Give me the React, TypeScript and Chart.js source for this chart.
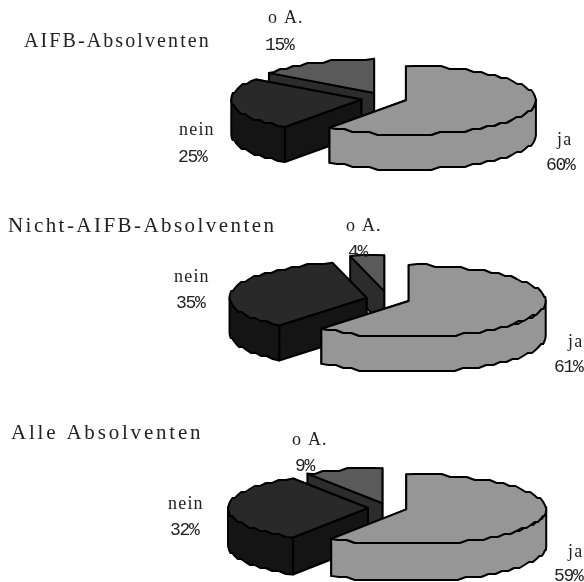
import React, { useEffect, useRef } from "react";
import { Chart, registerables } from "chart.js";

Chart.register(...registerables);

const categories = ["ja", "nein", "o A."];
const titles = ["AIFB-Absolventen", "Nicht-AIFB-Absolventen", "Alle Absolventen"];
const aifbValues = [60, 25, 15];
const nichtAifbValues = [61, 35, 4];
const alleValues = [59, 32, 9];
const topColors = ["#969696", "#292929", "#5a5a5a"];
const sideColors = ["#969696", "#141414", "#2c2c2c"];

const W = 584;
const H = 582;

// label anchors follow category order: ja, nein, o A.  [nameX, nameY, pctX, pctY]
const layouts = [
  {
    title: [24, 47, 20, 2.1], cx: 385, cy: 98.5, r: 130, squash: 0.262, depth: 35, explode: [22, 24, 24],
    labels: [[557, 145, 546, 170], [179, 135, 178, 162], [268, 23, 265, 50]],
  },
  {
    title: [8, 232, 21, 2.45], cx: 388, cy: 299, r: 137, squash: 0.263, depth: 35, explode: [22, 22, 30],
    labels: [[568, 347, 554, 372], [174, 282, 176, 308], [346, 231, 348, 257]],
  },
  {
    title: [11, 439, 21, 2.8], cx: 388, cy: 508, r: 140, squash: 0.25, depth: 37, explode: [19, 20, 20],
    labels: [[568, 557, 554, 581], [168, 509, 170, 535], [292, 445, 295, 471]],
  },
];

const GRID = 3;
const STEP = 9;
const snap = (v: number) => Math.round(v / GRID) * GRID;

const pie3d = {
  id: "pie3d",
  beforeDatasetsDraw(chart: any, _args: any, o: any) {
    const { ctx } = chart;
    const arcs = chart.getDatasetMeta(0).data;
    const order = [2, 1, 0];
    ctx.save();
    ctx.lineWidth = 2;
    ctx.lineJoin = "round";
    ctx.strokeStyle = "#000";
    for (const i of order) {
      const arc = arcs[i];
      const mid = (arc.startAngle + arc.endAngle) / 2;
      const ox = o.cx + Math.cos(mid) * o.explode[i];
      const oy = o.cy + Math.sin(mid) * o.explode[i] * o.squash;
      const rx = arc.outerRadius;
      const ry = arc.outerRadius * o.squash;
      const pt = (a: number) => [ox + Math.cos(a) * rx, oy + Math.sin(a) * ry];
      const rim = (a0: number, a1: number) => {
        const n = Math.max(2, Math.ceil(((a1 - a0) * rx) / STEP));
        const out: number[][] = [];
        for (let k = 0; k <= n; k++) {
          const p = pt(a0 + ((a1 - a0) * k) / n);
          const edge = k === 0 || k === n;
          out.push(edge ? p : [p[0], snap(p[1])]);
        }
        return out;
      };
      const shape = (pts: number[][], fill: string) => {
        ctx.beginPath();
        pts.forEach((p, k) => (k ? ctx.lineTo(p[0], p[1]) : ctx.moveTo(p[0], p[1])));
        ctx.closePath();
        ctx.fillStyle = fill;
        ctx.fill();
        ctx.stroke();
      };
      const down = (p: number[]) => [p[0], p[1] + o.depth];
      const cuts = [arc.startAngle, arc.endAngle].sort((a, b) => Math.sin(a) - Math.sin(b));
      for (const a of cuts) {
        const e = pt(a);
        shape([[ox, oy], e, down(e), [ox, oy + o.depth]], sideColors[i]);
      }
      // outer wall: the part of the rim that faces the viewer (canvas angles 0..PI)
      const a0 = Math.max(arc.startAngle, 0);
      const a1 = Math.min(arc.endAngle, Math.PI);
      if (a1 > a0) {
        const front = rim(a0, a1);
        shape([...front, ...front.slice().reverse().map(down)], sideColors[i]);
      }
      shape([[ox, oy], ...rim(arc.startAngle, arc.endAngle)], arc.options.backgroundColor);
    }
    ctx.restore();
    return false;
  },
  afterDraw(chart: any, _args: any, o: any) {
    const { ctx } = chart;
    ctx.save();
    ctx.textBaseline = "alphabetic";
    ctx.textAlign = "left";
    ctx.fillStyle = "#222";
    const [tx, ty, ts, tl] = o.title;
    ctx.font = `${ts}px "Liberation Serif"`;
    (ctx as any).letterSpacing = `${tl}px`;
    ctx.fillText(o.titleText, tx, ty);
    chart.data.labels.forEach((name: string, i: number) => {
      const [nx, ny, px, py] = o.labels[i];
      ctx.font = `18px "Liberation Serif"`;
      (ctx as any).letterSpacing = "1.2px";
      ctx.fillText(name, nx, ny);
      ctx.font = `18px "Liberation Mono"`;
      (ctx as any).letterSpacing = "-1.3px";
      ctx.fillText(`${chart.data.datasets[0].data[i]}%`, px, py);
    });
    ctx.restore();
  },
};

const seriesList = [aifbValues, nichtAifbValues, alleValues];

function Pie({ values, index }: { values: number[]; index: number }) {
  const ref = useRef<HTMLCanvasElement | null>(null);
  useEffect(() => {
    const layout = layouts[index];
    const chart = new Chart(ref.current as HTMLCanvasElement, {
      type: "pie",
      data: {
        labels: categories,
        datasets: [{ data: values, backgroundColor: topColors, borderWidth: 0 }],
      },
      options: {
        responsive: false,
        animation: false,
        radius: layout.r,
        plugins: {
          legend: { display: false },
          tooltip: { enabled: false },
          pie3d: { ...layout, titleText: titles[index] },
        },
      } as any,
      plugins: [pie3d as any],
    });
    return () => chart.destroy();
  }, [values, index]);
  return <canvas ref={ref} width={W} height={H} style={{ position: "absolute", left: 0, top: 0 }} />;
}

export default function App() {
  return (
    <div style={{ position: "absolute", left: 0, top: 0, width: W, height: H, overflow: "hidden", background: "#fff" }}>
      {seriesList.map((values, i) => (
        <Pie key={i} values={values} index={i} />
      ))}
    </div>
  );
}
